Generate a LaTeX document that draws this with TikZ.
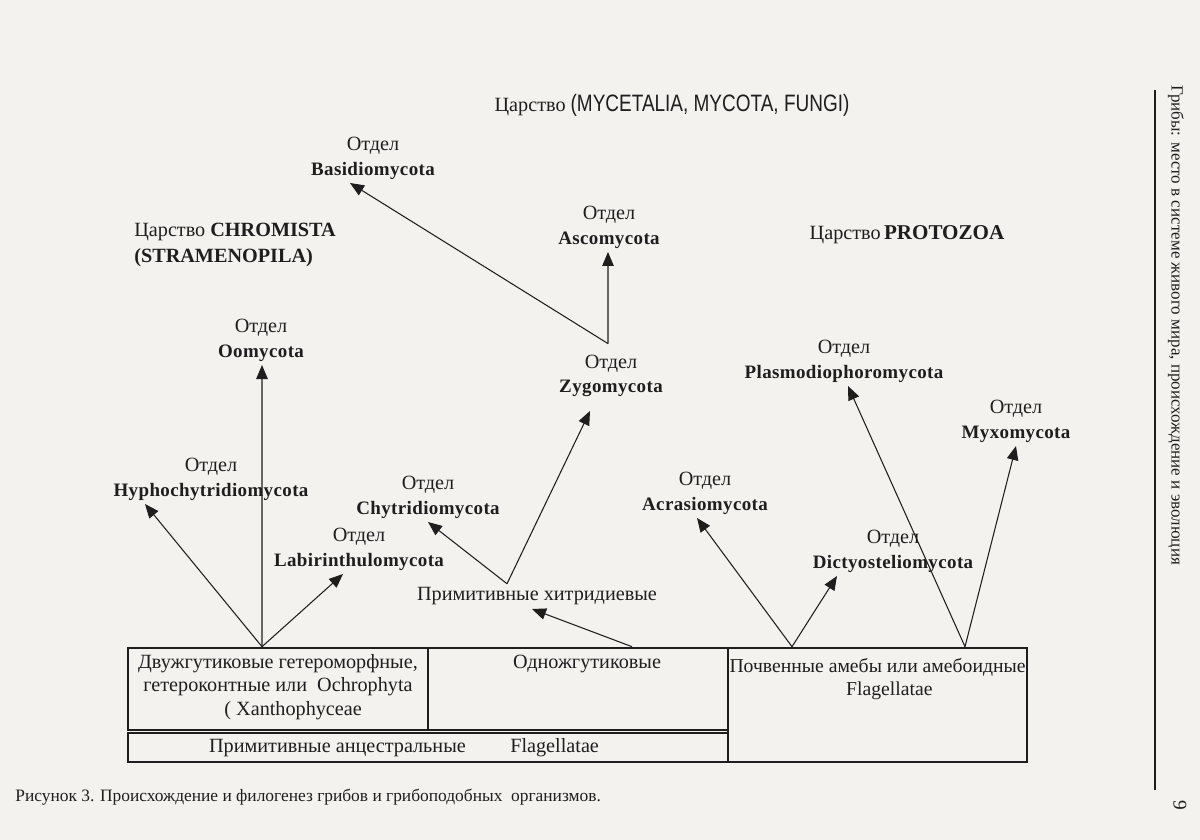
\documentclass[tikz,border=0pt]{standalone}
\usepackage{fontspec}
\setmainfont{Liberation Serif}
\newfontfamily\narrowsans[FakeStretch=0.8]{Liberation Sans}
\newfontfamily\spacedbf[LetterSpace=2]{Liberation Serif}
\usetikzlibrary{positioning, arrows.meta, calc}
\definecolor{paper}{RGB}{244,242,239}
\definecolor{ink}{RGB}{30,30,30}
\newcommand{\phy}[1]{{\spacedbf\bfseries\fontsize{10.8}{14}\selectfont #1}}

\begin{document}
\begin{tikzpicture}[
    x=0.2mm, y=-0.2mm,
    division/.style={align=center, anchor=south, inner sep=2pt, text=ink, font=\fontsize{11.5}{14}\selectfont},
    cell/.style={draw=ink, line width=1.5pt, inner sep=0pt},
    celltext/.style={align=center, inner sep=0pt, text=ink, font=\fontsize{11.5}{13.4}\selectfont},
    kingdom/.style={align=left, inner sep=0pt, text=ink, font=\fontsize{11.5}{14.7}\selectfont},
    arr/.style={-{Triangle[length=2.8mm,width=2.3mm]}, line width=0.6pt, draw=ink}
]

% paper
\fill[paper] (0,0) rectangle (1200,840);

% Boxes at the base
\node[cell, minimum width=6cm, minimum height=1.64cm] (lbox) at (278,689) {};
\node[cell, minimum width=6cm, minimum height=1.64cm] (mbox) at (578,689) {};
\node[cell, minimum width=5.98cm, minimum height=2.28cm] (rbox) at (877.5,705) {};
\node[cell, minimum width=12cm, minimum height=0.58cm] (bbox) at (428,747.5) {};

\node[celltext, below=1.4mm of lbox.north] (ltext) {Двужгутиковые гетероморфные,\\гетероконтные или~~Ochrophyta\\\hspace{1.5em}(~Xanthophyceae};
\node[celltext, below=1.7mm of mbox.north, xshift=1.8mm] (mtext) {Одножгутиковые};
\node[celltext, below=2.2mm of rbox.north, font=\fontsize{11.2}{13.4}\selectfont] (rtext) {Почвенные амебы или амебоидные\\\hspace{1.2em}Flagellatae};
\node[celltext, xshift=-4.8mm] (btext) at (bbox) {Примитивные анцестральные\hspace{2.2em}Flagellatae};

% Roots on the boxes
\coordinate (r1) at ([xshift=-3.2mm]lbox.north);
\coordinate (r2) at ([xshift=10.8mm]mbox.north);
\coordinate (r3) at ([xshift=-17.1mm]rbox.north);
\coordinate (r4) at ([xshift=17.5mm]rbox.north);

% Kingdoms
\node[kingdom] (fungi) at (672,105) {Царство {\narrowsans\fontsize{13.5}{16}\selectfont(MYCETALIA, MYCOTA, FUNGI)}};
\node[kingdom, anchor=north west] (chromista) at (134,223) {Царство \textbf{CHROMISTA}\\\textbf{(STRAMENOPILA)}};
\node[kingdom] (protozoa) at (907,235) {Царство\,{\bfseries\fontsize{12}{14}\selectfont PROTOZOA}};

% Divisions
\node[division] (basidio) at (373,183) {Отдел\\\phy{Basidiomycota}};
\node[division] (asco) at (609,252) {Отдел\\\phy{Ascomycota}};
\node[division] (oomy) at (261,365) {Отдел\\\phy{Oomycota}};
\node[division] (zygo) at (611,401) {Отдел\\\phy{Zygomycota}};
\node[division] (plasmo) at (844,386) {Отдел\\\phy{Plasmodiophoromycota}};
\node[division] (myxo) at (1016,446) {Отдел\\\phy{Myxomycota}};
\node[division] (hypho) at (211,504) {Отдел\\\phy{Hyphochytridiomycota}};
\node[division] (chytri) at (428,522) {Отдел\\\phy{Chytridiomycota}};
\node[division] (acras) at (705,518) {Отдел\\\phy{Acrasiomycota}};
\node[division] (labi) at (359,574) {Отдел\\\phy{Labirinthulomycota}};
\node[division] (dictyo) at (893,576) {Отдел\\\phy{Dictyosteliomycota}};
\node[division] (primchyt) at (537,609) {Примитивные хитридиевые};

% Arrows - Chromista
\draw[arr] (r1) -- ([xshift=-13.2mm]hypho.south);
\draw[arr] (r1) -- ([xshift=0.2mm]oomy.south);
\draw[arr] (r1) -- ([xshift=-3.2mm]labi.south);

% Arrows - fungi
\draw[arr] (r2) -- ([xshift=-1mm]primchyt.south);
\draw[arr] ([xshift=-6mm]primchyt.north) -- (chytri.south);
\draw[arr] ([xshift=-6mm]primchyt.north) -- ([xshift=-4.2mm,yshift=-2mm]zygo.south);
\draw[arr] ([xshift=-0.6mm,yshift=1.5mm]zygo.north) -- ([xshift=-4.6mm]basidio.south);
\draw[arr] ([xshift=-0.6mm,yshift=1.5mm]zygo.north) -- ([xshift=-0.2mm]asco.south);

% Arrows - Protozoa
\draw[arr] (r3) -- ([xshift=-1.6mm]acras.south);
\draw[arr] (r3) -- ([xshift=-11.2mm]dictyo.south);
\draw[arr] (r4) -- ([xshift=0.8mm]plasmo.south);
\draw[arr] (r4) -- (myxo.south);

% Caption
\node[anchor=west, inner sep=0pt, text=ink, font=\fontsize{9.9}{12}\selectfont] (caption) at (15,797) {Рисунок 3. Происхождение и филогенез грибов и грибоподобных~ организмов.};

% Running head
\draw[ink, line width=1pt] (1155,90) coordinate (hl1) -- (1155,790) coordinate (hl2);
\node[rotate=-90, anchor=west, inner sep=0pt, text=ink, font=\fontsize{9.7}{12}\selectfont] (head) at (1176,85) {Грибы: место в системе живого мира, происхождение и эволюция};
\node[rotate=-90, inner sep=0pt, text=ink, font=\fontsize{11}{12}\selectfont] (pagenum) at (1180,805) {9};

\end{tikzpicture}
\end{document}
